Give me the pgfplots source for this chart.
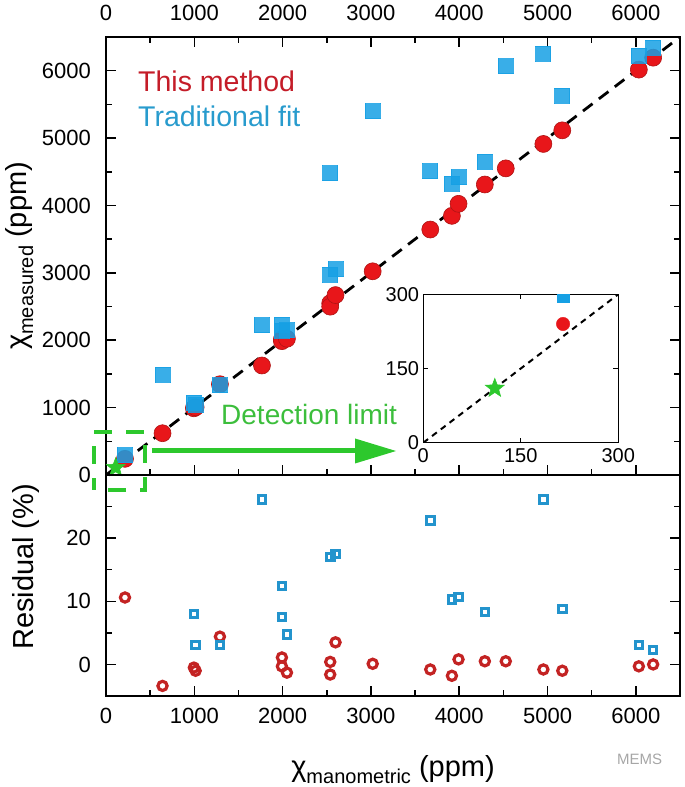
\documentclass[border=0pt]{standalone}
\usepackage{fontspec}
\setmainfont{Liberation Sans}
\usepackage{pgfplots}
\pgfplotsset{compat=1.18}

\definecolor{redfill}{RGB}{232,22,26}
\definecolor{reddraw}{RGB}{175,20,20}
\definecolor{bluefill}{RGB}{22,160,228}
\definecolor{redtxt}{RGB}{196,28,40}
\definecolor{bluetxt}{RGB}{40,155,205}
\definecolor{resred}{RGB}{195,35,35}
\definecolor{resblue}{RGB}{35,148,205}
\definecolor{limgreen}{RGB}{45,200,45}
\definecolor{txtgreen}{RGB}{60,190,60}

\pgfdeclareplotmark{fstar}{%
  \pgfpathmoveto{\pgfpointpolar{90}{\pgfplotmarksize}}%
  \pgfpathlineto{\pgfpointpolar{126}{0.42\pgfplotmarksize}}%
  \pgfpathlineto{\pgfpointpolar{162}{\pgfplotmarksize}}%
  \pgfpathlineto{\pgfpointpolar{198}{0.42\pgfplotmarksize}}%
  \pgfpathlineto{\pgfpointpolar{234}{\pgfplotmarksize}}%
  \pgfpathlineto{\pgfpointpolar{270}{0.42\pgfplotmarksize}}%
  \pgfpathlineto{\pgfpointpolar{306}{\pgfplotmarksize}}%
  \pgfpathlineto{\pgfpointpolar{342}{0.42\pgfplotmarksize}}%
  \pgfpathlineto{\pgfpointpolar{18}{\pgfplotmarksize}}%
  \pgfpathlineto{\pgfpointpolar{54}{0.42\pgfplotmarksize}}%
  \pgfpathclose
  \pgfusepathqfillstroke}

\pgfplotstableread{
x y
215 240
640 620
995 990
1015 1005
1290 1347
1766 1625
1992 2014
1992 1986
2049 2022
2539 2549
2539 2498
2599 2670
3020 3023
3672 3643
3917 3846
3992 4024
4290 4311
4527 4550
4953 4913
5167 5115
6034 6016
6196 6193
}\redmeas

\pgfplotstableread{
x y
215 296
640 1484
995 1075
1015 1046
1290 1335
1766 2220
1992 2233
1992 2141
2049 2145
2539 2971
2539 4476
2599 3054
3020 5400
3672 4510
3917 4320
3992 4419
4290 4646
4527 6068
4953 6250
5167 5625
6034 6221
6196 6338
}\bluemeas

\pgfplotstableread{
x r
215 10.6
640 -3.4
995 -0.5
1015 -1.0
1290 4.4
1992 1.1
1992 -0.3
2049 -1.3
2539 0.4
2539 -1.6
2599 3.5
3020 0.1
3672 -0.8
3917 -1.8
3992 0.8
4290 0.5
4527 0.5
4953 -0.8
5167 -1.0
6034 -0.3
6196 0.0
}\redres

\pgfplotstableread{
x r
995 8.0
1015 3.1
1290 3.1
1766 26.1
1992 12.4
1992 7.5
2049 4.7
2539 17.0
2599 17.5
3672 22.8
3917 10.3
3992 10.7
4290 8.3
4953 26.1
5167 8.8
6034 3.1
6196 2.3
}\blueres

\pgfplotsset{
  base/.style={
    scale only axis,
    tick align=inside,
    tick style={line width=1.5pt, black},
    axis line style={line width=1.8pt},
    /pgf/number format/assume math mode=true,
    /pgf/number format/set thousands separator={},
    scaled ticks=false,
  },
  mainx/.style={
    base, width=574pt,
    xmin=0, xmax=6500,
    xtick={0,1000,...,6000}, minor xtick={500,1500,...,6500},
    major tick length=10pt, minor tick length=6pt,
    ticklabel style={font=\fontsize{22}{24}\selectfont},
    yticklabel style={anchor=east, inner sep=0pt, xshift=-15pt},
  },
}

\begin{document}
\begin{tikzpicture}
\path[use as bounding box] (0,0) rectangle (685pt,787pt);

% ---------- top panel ----------
\begin{axis}[mainx,
  at={(106pt,312pt)}, anchor=south west,
  height=438pt,
  ymin=0, ymax=6500,
  ytick={0,1000,...,6000}, minor ytick={500,1500,...,6500},
  xtick pos=both, ytick pos=both,
  xticklabel pos=upper,
  xticklabel style={anchor=south, inner sep=0pt, yshift=16pt},
  ylabel={χ\raisebox{-7pt}{\fontsize{20}{20}\selectfont measured} (ppm)},
  ylabel style={font=\fontsize{29}{30}\selectfont, at={(axis description cs:-0.139,0.5)}, anchor=base, rotate=0},
]
\addplot[only marks, mark=*, mark size=8.5pt, mark options={fill=redfill, draw=reddraw, line width=0.6pt}] table[x=x,y=y] {\redmeas};
\addplot[only marks, mark=square*, mark size=7.5pt, mark options={fill=bluefill, draw=bluefill, line width=0pt, opacity=0.85}] table[x=x,y=y] {\bluemeas};
\addplot[black, line width=2.8pt, dash pattern=on 12pt off 8pt] coordinates {(0,0) (6500,6500)};
\addplot[only marks, mark=fstar, mark size=10pt, mark options={fill=limgreen, draw=limgreen, line width=0.5pt}] coordinates {(110,110)};
\end{axis}

% ---------- bottom panel ----------
\begin{axis}[mainx,
  at={(106pt,91pt)}, anchor=south west,
  height=221pt,
  ymin=-5, ymax=30,
  ytick={0,10,20}, minor ytick={5,15,25},
  xtick pos=lower, ytick pos=both,
  xticklabel pos=lower,
  xticklabel style={anchor=north, inner sep=0pt, yshift=-12pt},
  xlabel={χ\raisebox{-7pt}{\fontsize{20}{20}\selectfont manometric} (ppm)},
  xlabel style={font=\fontsize{29}{30}\selectfont, at={(axis description cs:0.5,-0.362)}, anchor=base},
  ylabel={Residual (\%)},
  ylabel style={font=\fontsize{29}{30}\selectfont, at={(axis description cs:-0.127,0.584)}, anchor=base, rotate=0},
]
\addplot[only marks, mark=o, mark size=4.6pt, mark options={draw=resred, line width=3.2pt}] table[x=x,y=r] {\redres};
\addplot[only marks, mark=square, mark size=3.8pt, mark options={draw=resblue, line width=3pt}] table[x=x,y=r] {\blueres};
\end{axis}

% ---------- inset ----------
\begin{axis}[base,
  at={(423.3pt,344.3pt)}, anchor=south west,
  width=195pt, height=148.4pt,
  xmin=0, xmax=300, ymin=0, ymax=300,
  xtick={0,150,300}, ytick={0,150,300},
  xtick pos=both, ytick pos=both,
  xticklabel pos=lower, yticklabel pos=left,
  major tick length=5pt,
  axis line style={line width=1.3pt},
  tick style={line width=1.1pt, black},
  clip marker paths=true,
  ticklabel style={font=\fontsize{20}{22}\selectfont},
  xticklabel style={anchor=north, inner sep=0pt, yshift=-6pt},
  yticklabel style={anchor=east, inner sep=0pt, xshift=-4pt},
]
\addplot[black, line width=2pt, dash pattern=on 6pt off 5pt] coordinates {(0,0) (300,300)};
\addplot[only marks, mark=*, mark size=6.7pt, mark options={fill=redfill, draw=redfill}] coordinates {(215,240)};
\addplot[only marks, mark=square*, mark size=6pt, mark options={fill=bluefill, draw=bluefill}] coordinates {(215,296)};
\addplot[only marks, mark=fstar, mark size=10pt, mark options={fill=limgreen, draw=limgreen, line width=0.5pt}] coordinates {(110,110)};
\end{axis}

% ---------- annotations ----------
\node[anchor=base west, text=redtxt, font=\fontsize{28.5}{30}\selectfont, inner sep=0pt] at (138pt,695pt) {This method};
\node[anchor=base west, text=bluetxt, font=\fontsize{28.5}{30}\selectfont, inner sep=0pt] at (138pt,660pt) {Traditional fit};
\node[anchor=base west, text=txtgreen, font=\fontsize{28}{30}\selectfont, inner sep=0pt] at (221pt,362pt) {Detection limit};
\draw[limgreen, line width=4pt, dash pattern=on 18pt off 14pt, dash phase=6pt] (94pt,297pt) rectangle (145pt,355pt);
\draw[limgreen, line width=5pt] (152pt,336pt) -- (360pt,336pt);
\fill[limgreen] (355pt,348.5pt) -- (396pt,336pt) -- (355pt,323.5pt) -- cycle;
\node[anchor=base west, text=black!35, font=\fontsize{15}{16}\selectfont, inner sep=0pt] at (617pt,22pt) {MEMS};
\end{tikzpicture}
\end{document}
